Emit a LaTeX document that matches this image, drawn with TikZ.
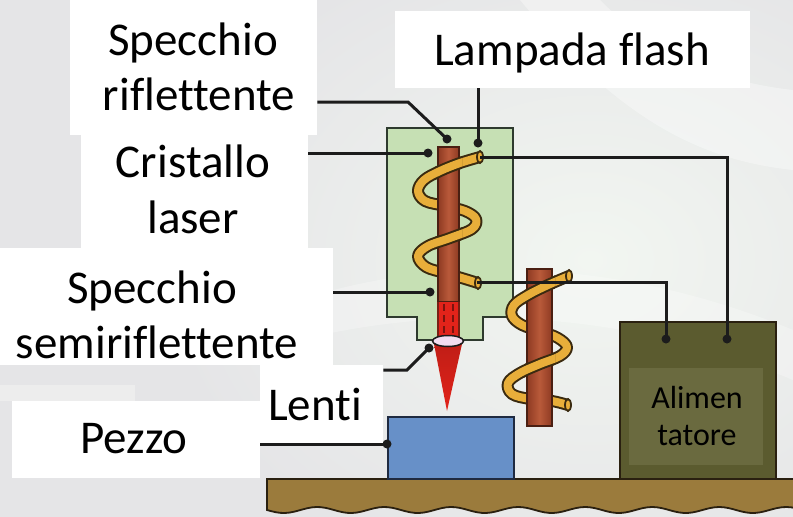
\documentclass[tikz,border=0pt]{standalone}
\usepackage{fontspec}
\setmainfont{Carlito}[Ligatures=NoCommon]
\usetikzlibrary{calc,shapes.geometric}
\definecolor{bggray}{HTML}{E5E5E7}
\definecolor{bglight}{HTML}{F2F6F1}
\definecolor{bgpale}{HTML}{EDEDED}
\definecolor{wirec}{HTML}{1C1C1C}
\definecolor{housefill}{HTML}{C6E0B4}
\definecolor{housedraw}{HTML}{2E3A2E}
\definecolor{rodmid}{HTML}{B95A3A}
\definecolor{rodside}{HTML}{8E3A22}
\definecolor{roddraw}{HTML}{4A1F12}
\definecolor{beamred}{HTML}{E2231A}
\definecolor{coilc}{HTML}{E8AE3A}
\definecolor{coildraw}{HTML}{3A2A10}
\definecolor{olive}{HTML}{5B5B2F}
\definecolor{oliveinner}{HTML}{6A6A3F}
\definecolor{blockblue}{HTML}{6790C8}
\definecolor{blockdraw}{HTML}{1F2A40}
\definecolor{basebrown}{HTML}{9B7B3C}
\definecolor{basedraw}{HTML}{2A2010}
\definecolor{lensfill}{HTML}{F2DDF0}

% coil around the laser crystal
\def\coilA{plot[smooth,tension=0.6] coordinates {(480,157) (460,163) (440,171) (424,180) (418,191) (425,201) (445,206) (465,211) (476,219) (472,229) (450,238) (428,246) (418,256) (426,267) (445,273) (465,279) (478,283)}}
% coil around the second tube
\def\coilB{plot[smooth,tension=0.6] coordinates {(569,276) (548,285) (528,295) (514,305) (512,316) (522,325) (540,331) (558,338) (567,347) (560,356) (540,364) (520,373) (508,383) (512,394) (530,399) (552,401) (568,405)}}

\begin{document}
\begin{tikzpicture}[x=1pt,y=-1pt,
  labelbox/.style={fill=white, draw=none, inner sep=0pt, anchor=north west},
  lbl/.style={font=\fontsize{47}{55}\selectfont, anchor=base, inner sep=0pt},
  smalllbl/.style={font=\fontsize{32}{37}\selectfont, anchor=base, inner sep=0pt},
  wire/.style={draw=wirec, line width=3pt},
  jdot/.style={circle, fill=wirec, inner sep=0pt, minimum size=9pt},
  coilout/.style={draw=coildraw, line width=12pt, line join=round},
  coilin/.style={draw=coilc, line width=8pt, line join=round},
  rodstyle/.style={draw=roddraw, line width=1.3pt, left color=rodside, right color=rodside, middle color=rodmid},
  endcap/.style={fill=coilc, draw=coildraw, line width=1.8pt}]
\useasboundingbox (0,0) rectangle (793,517);

% backdrop
\fill[bggray] (0,0) rectangle (793,517);
\shade[inner color=bglight, outer color=bggray] (590,260) ellipse [x radius=430, y radius=330];
\fill[white, opacity=0.35] (520,0) .. controls (620,120) and (700,160) .. (793,170) -- (793,90) .. controls (700,80) and (640,40) .. (600,0) -- cycle;
\fill[white, opacity=0.25] (300,300) .. controls (420,260) and (600,250) .. (793,330) -- (793,380) .. controls (600,300) and (420,310) .. (300,340) -- cycle;
\fill[bgpale] (0,385) rectangle (135,401);

% bench
\filldraw[fill=basebrown, draw=basedraw, line width=1.8pt]
  (267,479) -- (800,479) -- (800,510)
  -- plot[domain=800:267, samples=120] (\x, {510 + 3*sin((\x-267)/67*360)}) -- cycle;

% power supply
\node[draw=basedraw, fill=olive, line width=1.6pt, minimum width=156pt, minimum height=157pt, anchor=north west, inner sep=0pt] (psu) at (619,321) {};
\node[fill=oliveinner, minimum width=134pt, minimum height=97pt, anchor=north west, inner sep=0pt] (psuin) at (629,368) {};
\node[smalllbl] at (697,408) {Alimen};
\node[smalllbl] at (697,445) {tatore};

% workpiece
\node[draw=blockdraw, fill=blockblue, line width=1.6pt, minimum width=126pt, minimum height=62pt, anchor=north west, inner sep=0pt] (piece) at (387,416) {};

% laser housing
\filldraw[fill=housefill, draw=housedraw, line width=1.8pt]
  (387,128) -- (513,128) -- (513,317) -- (483,317) -- (483,340)
  -- (417,340) -- (417,317) -- (387,317) -- cycle;

% beam leaving the lens
\shade[top color=beamred!85!black, bottom color=beamred] (434,344) -- (462,344) -- (447,411) -- cycle;

% coil A behind, crystal, coil A in front
\draw[coilout] \coilA;
\draw[coilin] \coilA;
\path[rodstyle] (438,147) rectangle (459,302);
\fill[beamred] (438,302) rectangle (459,338);
\draw[roddraw!70!beamred, line width=1.2pt] (438,302) -- (438,338) (459,302) -- (459,338);
\draw[beamred!55!black, line width=2pt, dash pattern=on 7pt off 4pt] (444,304) -- (444,338) (453,304) -- (453,338);
\begin{scope}
  \clip (435,150) rectangle (462,190) (435,222) rectangle (462,256);
  \draw[coilout] \coilA;
  \draw[coilin] \coilA;
\end{scope}
\draw[endcap] (480,157) ellipse [x radius=3pt, y radius=6pt];
\draw[endcap] (478,283) ellipse [x radius=3pt, y radius=6pt];

% lens
\node[ellipse, draw=wirec, fill=lensfill, line width=1.5pt, minimum width=31pt, minimum height=11pt, inner sep=0pt] (lens) at (448,341) {};

% second flash tube
\draw[coilout] \coilB;
\draw[coilin] \coilB;
\path[rodstyle] (527,269) rectangle (552,426);
\begin{scope}
  \clip (524,270) rectangle (555,312) (524,348) rectangle (555,386);
  \draw[coilout] \coilB;
  \draw[coilin] \coilB;
\end{scope}
\draw[endcap] (569,276) ellipse [x radius=3pt, y radius=6pt];
\draw[endcap] (568,405) ellipse [x radius=3pt, y radius=6pt];

% terminals
\node[jdot] (dSR) at (447,139) {};
\node[jdot] (dLF) at (478,143) {};
\node[jdot] (dCL) at (428,153) {};
\node[jdot] (dSS) at (430,292) {};
\node[jdot] (dLE) at (429,348) {};
\node[jdot] (dPZ) at (387,444) {};
\node[jdot] (dP1) at (666,339) {};
\node[jdot] (dP2) at (727,339) {};
\coordinate (cA1) at (480,157);
\coordinate (cA2) at (477,282);

% supply wiring
\draw[wire] (cA1) -- (727,157) -- (dP2.center);
\draw[wire] (cA2) -- (666,282) -- (dP1.center);

% label boxes
\node[labelbox, minimum width=247pt, minimum height=135pt] (boxSR) at (70,0) {};
\node[labelbox, minimum width=227pt, minimum height=113pt] (boxCL) at (81,135) {};
\node[labelbox, minimum width=355pt, minimum height=77pt] (boxLF) at (395,11) {};
\node[labelbox, minimum width=333pt, minimum height=117pt] (boxSS) at (0,248) {};
\node[labelbox, minimum width=123pt, minimum height=78pt] (boxLE) at (260,365) {};
\node[labelbox, minimum width=248pt, minimum height=77pt] (boxPZ) at (12,401) {};

% leaders
\coordinate (ySR) at (0,102);
\coordinate (yCL) at (0,153);
\coordinate (ySS) at (0,292);
\coordinate (yLE) at (0,370);
\coordinate (yPZ) at (0,444);
\draw[wire] (boxSR.east |- ySR) -- (408,102) -- (dSR.center);
\draw[wire] (boxCL.east |- yCL) -- (dCL.center);
\draw[wire] (boxLF.south -| dLF) -- (dLF.center);
\draw[wire] (boxSS.east |- ySS) -- (dSS.center);
\draw[wire] (boxLE.east |- yLE) -- (407,370) -- (dLE.center);
\draw[wire] (boxPZ.east |- yPZ) -- (dPZ.center);

% label texts
\node[lbl] at (193,55) {Specchio};
\node[lbl] at (199,110) {riflettente};
\node[lbl] at (193,177) {Cristallo};
\node[lbl] at (193,233) {laser};
\node[lbl] at (572,65) {Lampada flash};
\node[lbl] at (152,303) {Specchio};
\node[lbl] at (157,358) {semiriflettente};
\node[lbl] at (315,420) {Lenti};
\node[lbl] at (134,453) {Pezzo};
\end{tikzpicture}
\end{document}
